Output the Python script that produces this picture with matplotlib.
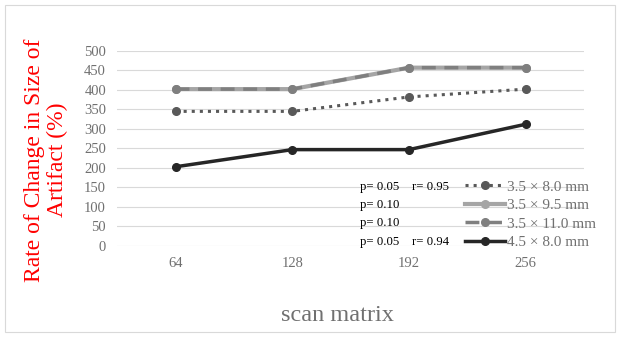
import matplotlib.pyplot as plt
from matplotlib.patches import Rectangle

# data
matrix = ['64', '128', '192', '256']
s_35_80 = [345, 345, 382, 402]
s_35_95 = [402, 402, 457, 457]
s_35_110 = [402, 402, 457, 457]
s_45_80 = [203, 247, 247, 312]
labels = ['3.5 × 8.0 mm', '3.5 × 9.5 mm', '3.5 × 11.0 mm', '4.5 × 8.0 mm']
p_text = ['p= 0.05', 'p= 0.10', 'p= 0.10', 'p= 0.05']
r_text = ['r= 0.95', '', '', 'r= 0.94']

plt.rcParams['font.family'] = ['Liberation Serif', 'DejaVu Serif']

fig = plt.figure(figsize=(6.2, 3.37), dpi=100)
ax = fig.add_axes([0.189, 0.270, 0.753, 0.579])

x = range(len(matrix))
ax.plot(x, s_35_80, color='#595959', linestyle=':', lw=2.2, marker='o', ms=5.5, label=labels[0])
ax.plot(x, s_35_95, color='#a5a5a5', linestyle='-', lw=3, marker='o', ms=5.5, label=labels[1])
ax.plot(x, s_35_110, color='#7f7f7f', linestyle=(0, (4, 2.5)), lw=2.5, marker='o', ms=5.5, label=labels[2])
ax.plot(x, s_45_80, color='#262626', linestyle='-', lw=2.5, marker='o', ms=5.5, label=labels[3])

ax.set_xlim(-0.5, 3.5)
ax.set_ylim(0, 500)
ax.set_yticks(range(0, 501, 50))
ax.set_xticks(list(x))
ax.set_xticklabels(matrix)
ax.tick_params(length=0, labelsize=10.5, colors='#707070', pad=8)
ax.grid(axis='y', color='#d9d9d9', lw=0.8)
ax.set_axisbelow(True)
for s in ax.spines.values():
    s.set_visible(False)

ax.set_ylabel('Rate of Change in Size of\nArtifact (%)', color='#ff0000', fontsize=17, linespacing=1.15)
ax.yaxis.set_label_coords(-0.105, 0.44)
ax.set_xlabel('scan matrix', color='#707070', fontsize=17.5)
ax.xaxis.set_label_coords(0.471, -0.30)

leg = fig.legend(loc='upper left', bbox_to_anchor=(465 / 620, 1 - 180 / 337), frameon=False,
                 fontsize=11, handlelength=2.6, handletextpad=0.15, labelspacing=0.31,
                 borderpad=0, borderaxespad=0)
for t in leg.get_texts():
    t.set_color('#707070')

row_y = [187, 205, 223, 242]
for i in range(4):
    fig.text(360 / 620, 1 - row_y[i] / 337, p_text[i], fontsize=9.2, va='center')
    if r_text[i]:
        fig.text(412 / 620, 1 - row_y[i] / 337, r_text[i], fontsize=9.2, va='center')

fig.patches.append(Rectangle((0.008, 0.015), 0.984, 0.97, transform=fig.transFigure,
                             fill=False, edgecolor='#d9d9d9', lw=0.8))

fig.savefig('out.png', dpi=100)
